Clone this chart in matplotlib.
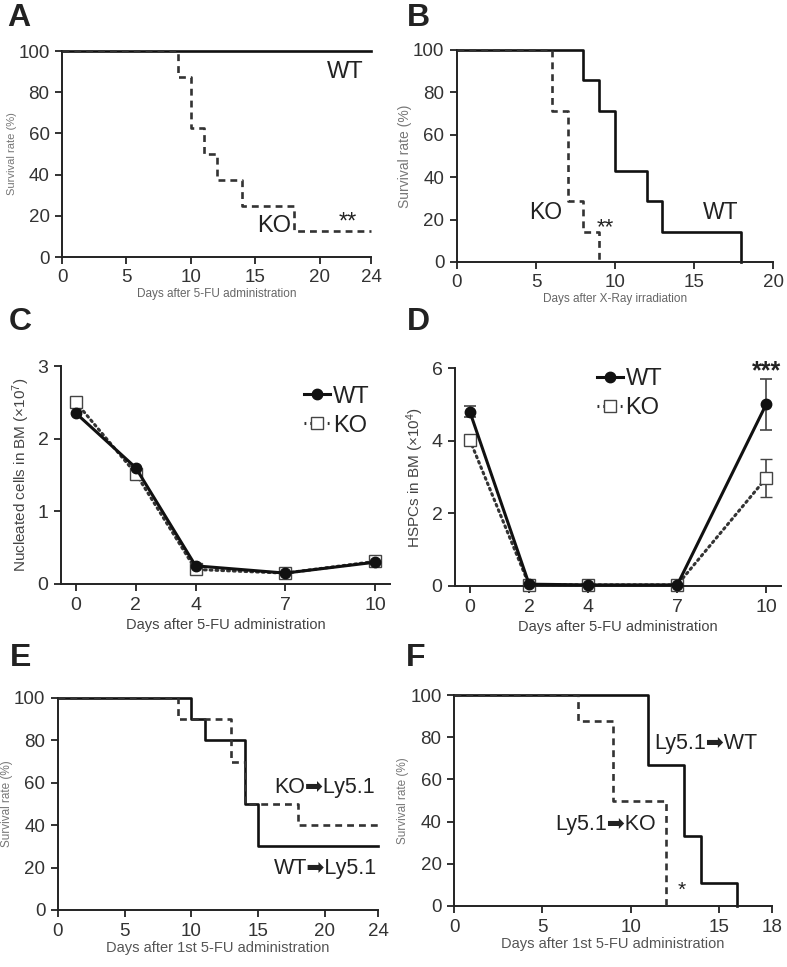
import matplotlib
matplotlib.use("Agg")
import matplotlib.pyplot as plt
from matplotlib.lines import Line2D

plt.rcParams['font.family'] = ['Liberation Sans', 'DejaVu Sans']
plt.rcParams['mathtext.fontset'] = 'custom'
plt.rcParams['mathtext.rm'] = 'Liberation Sans'
plt.rcParams['mathtext.it'] = 'Liberation Sans:italic'

# ---------------- data ----------------
# A: survival after 5-FU
a_wt_t = [0, 24]
a_wt_s = [100, 100]
a_ko_t = [0, 9, 10, 11, 12, 14, 18, 24]
a_ko_s = [100, 87.5, 62.5, 50, 37.5, 25, 12.5, 12.5]
# B: survival after X-ray
b_wt_t = [0, 8, 9, 10, 12, 13, 18]
b_wt_s = [100, 85.7, 71.4, 42.9, 28.6, 14.3, 0]
b_ko_t = [0, 6, 7, 8, 9]
b_ko_s = [100, 71.4, 28.6, 14.3, 0]
# C: nucleated cells in BM (x10^7)
cd_days = [0, 2, 4, 7, 10]
c_wt = [2.35, 1.60, 0.25, 0.15, 0.30]
c_ko = [2.50, 1.52, 0.20, 0.15, 0.31]
# D: HSPCs in BM (x10^4)
d_wt = [4.80, 0.05, 0.03, 0.03, 5.00]
d_wt_err = [0.15, 0.02, 0.02, 0.02, 0.70]
d_ko = [4.02, 0.03, 0.03, 0.03, 2.97]
d_ko_err = [0.05, 0.02, 0.02, 0.02, 0.52]
# E: transplant survival
e_wt_t = [0, 10, 11, 14, 15, 24]
e_wt_s = [100, 90, 80, 50, 30, 30]
e_ko_t = [0, 9, 13, 14, 18, 24]
e_ko_s = [100, 90, 70, 50, 40, 40]
# F: transplant survival
f_wt_t = [0, 11, 13, 14, 16]
f_wt_s = [100, 66.7, 33.3, 11.1, 0]
f_ko_t = [0, 7, 9, 12]
f_ko_s = [100, 87.5, 50, 0]

W, H = 787, 967
fig = plt.figure(figsize=(W / 100, H / 100), dpi=100)

def ax_px(l, r, t, b):
    return fig.add_axes([l / W, 1 - b / H, (r - l) / W, (b - t) / H])

TICK = '#333333'
SOLID = '#111111'
DASH = '#333333'
LW = 1.9
DASHES = (2.6, 1.9)

def style(ax, tick_fs=13.5):
    for s in ['top', 'right']:
        ax.spines[s].set_visible(False)
    for s in ['left', 'bottom']:
        ax.spines[s].set_linewidth(1.4)
        ax.spines[s].set_color('#222222')
    ax.tick_params(direction='out', length=5, width=1.3, colors='#222222',
                   labelcolor=TICK, labelsize=tick_fs, pad=4)

def panel_label(x, y, s):
    fig.text(x / W, 1 - y / H, s, fontsize=23, fontweight='bold',
             color='#222222', ha='left', va='center')

def surv(ax, wt_t, wt_s, ko_t, ko_s):
    ax.step(ko_t, ko_s, where='post', color=DASH, lw=LW, dashes=DASHES,
            clip_on=False, zorder=3)
    ax.step(wt_t, wt_s, where='post', color=SOLID, lw=LW, clip_on=False,
            zorder=2)
    ax.set_ylim(0, 100)
    ax.set_yticks([0, 20, 40, 60, 80, 100])

# ---------------- A ----------------
axA = ax_px(62, 371, 51, 257)
style(axA)
surv(axA, a_wt_t, a_wt_s, a_ko_t, a_ko_s)
axA.set_xlim(0, 24)
axA.set_xticks([0, 5, 10, 15, 20, 24])
axA.set_xlabel('Days after 5-FU administration', fontsize=8.5, color='#666666', labelpad=1)
axA.set_ylabel('Survival rate (%)', fontsize=8, color='#777777', labelpad=1)
axA.text(22, 90, 'WT', fontsize=17, color='#222222', ha='center', va='center')
axA.text(17.8, 15, 'KO', fontsize=17, color='#222222', ha='right', va='center')
axA.text(22.2, 16.5, '**', fontsize=17, color='#222222', ha='center', va='center')
panel_label(7, 18, 'A')

# ---------------- B ----------------
axB = ax_px(457, 773, 50, 262)
style(axB)
surv(axB, b_wt_t, b_wt_s, b_ko_t, b_ko_s)
axB.set_xlim(0, 20)
axB.set_xticks([0, 5, 10, 15, 20])
axB.set_xlabel('Days after X-Ray irradiation', fontsize=8.5, color='#666666', labelpad=1)
axB.set_ylabel('Survival rate (%)', fontsize=10, color='#777777', labelpad=1)
axB.text(5.6, 23.5, 'KO', fontsize=16.5, color='#222222', ha='center', va='center')
axB.text(16.7, 23.5, 'WT', fontsize=16.5, color='#222222', ha='center', va='center')
axB.text(9.4, 16, '**', fontsize=16, color='#222222', ha='center', va='center')
panel_label(407, 18, 'B')

# ---------------- C ----------------
axC = ax_px(61, 390, 366, 584)
style(axC, 14)
axC.plot(cd_days, c_ko, color=DASH, lw=2.2, ls=(0, (0.6, 1.3)), dash_capstyle='round',
         marker='s', ms=8, mfc='white', mec='#444444', mew=1.0, zorder=2, clip_on=False)
axC.plot(cd_days, c_wt, color=SOLID, lw=2.2, marker='o', ms=7.5, mfc=SOLID,
         mec=SOLID, zorder=3, clip_on=False)
axC.set_xlim(-0.5, 10.5)
axC.set_ylim(0, 3)
axC.set_xticks(cd_days)
axC.set_yticks([0, 1, 2, 3])
axC.set_xlabel('Days after 5-FU administration', fontsize=10.5, color='#444444', labelpad=3)
axC.set_ylabel(r'Nucleated cells in BM (×10$^{7}$)', fontsize=11, color='#444444', labelpad=4)
hC = [Line2D([], [], color=SOLID, lw=2.2, marker='o', ms=7.5, mfc=SOLID, mec=SOLID),
      Line2D([], [], color=DASH, lw=2.2, ls=(0, (0.6, 1.3)), marker='s', ms=8,
             mfc='white', mec='#444444', mew=1.0)]
axC.legend(hC, ['WT', 'KO'], loc='upper left', bbox_to_anchor=(0.74, 0.91),
           frameon=False, fontsize=17, handlelength=1.1, handletextpad=0.12,
           labelspacing=0.3, borderpad=0, borderaxespad=0, labelcolor='#222222')
panel_label(9, 322, 'C')

# ---------------- D ----------------
axD = ax_px(455, 781, 368, 586)
style(axD, 14)
axD.errorbar(cd_days, d_ko, yerr=d_ko_err, color=DASH, lw=2.2, ls=(0, (0.6, 1.3)),
             dash_capstyle='round', marker='s', ms=8, mfc='white', mec='#444444',
             mew=1.0, ecolor='#444444', elinewidth=1.2, capsize=4, capthick=1.2,
             zorder=2, clip_on=False)
axD.errorbar(cd_days, d_wt, yerr=d_wt_err, color=SOLID, lw=2.2, marker='o', ms=7.5,
             mfc=SOLID, mec=SOLID, ecolor='#444444', elinewidth=1.2, capsize=4,
             capthick=1.2, zorder=3, clip_on=False)
axD.set_xlim(-0.5, 10.5)
axD.set_ylim(0, 6)
axD.set_xticks(cd_days)
axD.set_yticks([0, 2, 4, 6])
axD.set_xlabel('Days after 5-FU administration', fontsize=10.5, color='#444444', labelpad=3)
axD.set_ylabel(r'HSPCs in BM (×10$^{4}$)', fontsize=11, color='#444444', labelpad=4)
hD = [Line2D([], [], color=SOLID, lw=2.2, marker='o', ms=7.5, mfc=SOLID, mec=SOLID),
      Line2D([], [], color=DASH, lw=2.2, ls=(0, (0.6, 1.3)), marker='s', ms=8,
             mfc='white', mec='#444444', mew=1.0)]
axD.legend(hD, ['WT', 'KO'], loc='upper left', bbox_to_anchor=(0.435, 1.0),
           frameon=False, fontsize=17, handlelength=1.1, handletextpad=0.12,
           labelspacing=0.3, borderpad=0, borderaxespad=0, labelcolor='#222222')
axD.text(10.0, 5.9, '***', fontsize=18, fontweight='bold', color='#222222',
         ha='center', va='center')
panel_label(407, 322, 'D')

# ---------------- E ----------------
axE = ax_px(58, 378, 698, 910)
style(axE)
surv(axE, e_wt_t, e_wt_s, e_ko_t, e_ko_s)
axE.set_xlim(0, 24)
axE.set_xticks([0, 5, 10, 15, 20, 24])
axE.set_xlabel('Days after 1st 5-FU administration', fontsize=10.5, color='#555555', labelpad=1)
axE.set_ylabel('Survival rate (%)', fontsize=8.5, color='#777777', labelpad=1)
axE.text(23.8, 58, 'KO➡Ly5.1', fontsize=15.5, color='#222222', ha='right', va='center')
axE.text(23.9, 19.5, 'WT➡Ly5.1', fontsize=15.5, color='#222222', ha='right', va='center')
panel_label(10, 658, 'E')

# ---------------- F ----------------
axF = ax_px(454, 772, 695, 906)
style(axF)
surv(axF, f_wt_t, f_wt_s, f_ko_t, f_ko_s)
axF.set_xlim(0, 18)
axF.set_xticks([0, 5, 10, 15, 18])
axF.set_xlabel('Days after 1st 5-FU administration', fontsize=10.5, color='#555555', labelpad=1)
axF.set_ylabel('Survival rate (%)', fontsize=8.5, color='#777777', labelpad=1)
axF.text(17.2, 77, 'Ly5.1➡WT', fontsize=15.5, color='#222222', ha='right', va='center')
axF.text(11.4, 38.5, 'Ly5.1➡KO', fontsize=15.5, color='#222222', ha='right', va='center')
axF.text(12.9, 7.5, '*', fontsize=15, color='#222222', ha='center', va='center')
panel_label(406, 658, 'F')

fig.savefig('out.png', dpi=100)
